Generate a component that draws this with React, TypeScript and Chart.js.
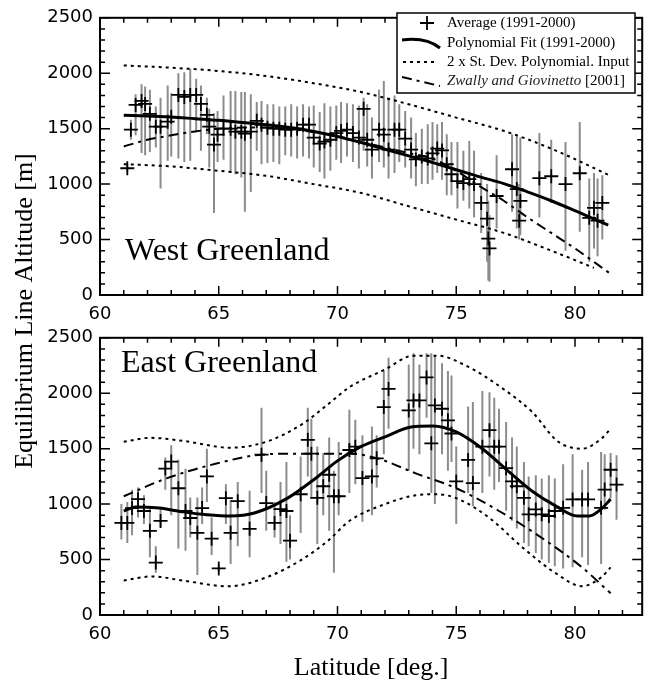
import React, { useEffect, useRef } from 'react';
import { Chart, registerables } from 'chart.js';

Chart.register(...registerables);

// ---------------- West Greenland ----------------
const westLat = [61.15,61.3,61.5,61.75,61.9,62.1,62.35,62.55,62.85,63.0,63.3,63.55,63.8,64.05,64.25,64.5,64.6,64.8,64.95,65.2,65.5,65.7,65.95,66.1,66.35,66.6,66.8,67.05,67.3,67.55,67.8,68.05,68.3,68.55,68.8,69.0,69.25,69.45,69.7,69.95,70.15,70.4,70.65,70.9,71.1,71.25,71.45,71.75,71.95,72.15,72.4,72.6,72.85,73.1,73.3,73.55,73.8,74.0,74.2,74.4,74.6,74.8,75.05,75.3,75.55,75.75,76.05,76.3,76.35,76.4,76.7,77.35,77.55,77.65,77.7,78.5,79.0,79.6,80.2,80.6,80.8,80.95,81.15];
const westAvg = [1143,1491,1714,1750,1723,1634,1518,1518,1563,1607,1804,1786,1804,1804,1723,1625,1518,1357,1446,1500,1500,1473,1473,1455,1473,1571,1536,1509,1500,1500,1491,1491,1500,1536,1536,1420,1366,1384,1400,1460,1480,1491,1460,1420,1679,1400,1312,1491,1446,1312,1491,1491,1411,1312,1223,1250,1232,1277,1321,1304,1179,1089,1027,1009,1045,1000,830,688,509,420,893,1134,955,670,848,1054,1071,1000,1098,696,786,670,830];
const westLow = [1110,1400,1440,1280,1260,1290,1330,960,1210,1250,1230,1200,1210,1470,1300,1450,1150,740,1200,1220,1100,1090,1060,750,930,1300,1180,1190,1200,1180,1260,1250,1230,1250,1230,1150,1110,1050,1120,1220,1190,1250,1200,1140,1300,1160,1050,1200,1150,1050,1100,1200,1150,1050,980,1000,1000,1040,1100,1040,900,900,780,850,780,700,560,300,130,120,600,750,600,500,540,700,830,400,570,300,420,350,500];
const westHigh = [1180,1580,1810,1900,1880,1850,1700,1780,1890,1820,2000,2010,2040,1950,1890,1780,1680,1640,1660,1800,1840,1840,1830,1830,1810,1740,1750,1720,1720,1700,1700,1720,1700,1720,1700,1710,1650,1730,1700,1710,1740,1730,1720,1710,1780,1720,1600,1850,1930,1780,1800,1720,1660,1600,1460,1500,1540,1560,1540,1560,1450,1380,1380,1300,1390,1300,1100,1000,850,720,1260,1450,1430,1000,1420,1460,1400,1380,1560,1050,1100,1050,1080];

const westFitLat = [61,62,63,64,65,66,67,68,69,70,71,72,73,74,75,76,77,78,79,80,81.4];
const westFitAlt = [1620,1615,1605,1590,1575,1555,1535,1510,1475,1430,1375,1315,1255,1195,1130,1065,1005,930,850,760,630];
const westUpperLat = [61,63,65,67,69,71,73,75,77,79,81.5];
const westUpperAlt = [2070,2050,2020,1975,1910,1830,1720,1600,1480,1320,1075];
const westLowerLat = [61,63,65,67,69,71,73,75,77,79,80.8];
const westLowerAlt = [1180,1160,1120,1075,1000,920,800,680,560,400,245];
const westZgLat = [61,62,63,64,65,66,67,68,69,70,71,72,73,74,75,76,77,78,79,80,81.5];
const westZgAlt = [1340,1400,1440,1475,1500,1510,1510,1495,1470,1430,1380,1330,1280,1230,1120,980,850,700,560,420,190];

// ---------------- East Greenland ----------------
const eastLat = [60.9,61.15,61.35,61.6,61.85,62.1,62.35,62.55,62.75,63.0,63.3,63.6,63.8,64.1,64.3,64.5,64.7,65.0,65.3,65.5,65.8,66.3,66.8,67.0,67.35,67.6,67.85,68.0,68.45,68.75,68.9,69.15,69.4,69.65,69.85,70.05,70.5,70.75,71.05,71.45,71.65,71.95,72.15,73.0,73.2,73.45,73.75,73.95,74.1,74.4,74.65,74.8,75.0,75.5,75.7,76.1,76.4,76.6,76.8,77.1,77.35,77.55,77.85,78.05,78.35,78.6,78.9,79.15,79.5,79.9,80.3,80.55,81.1,81.25,81.5,81.75];
const eastAvg = [830,830,964,1045,938,759,473,848,1321,1384,1143,938,875,741,964,1250,688,420,1054,741,1027,777,1446,1009,830,955,938,670,1089,1580,1455,1057,1161,1265,1071,1071,1488,1518,1235,1250,1413,1875,2039,1845,1935,1935,2143,1548,1890,1860,1756,1637,1205,1399,1190,1518,1667,1518,1518,1324,1205,1161,1057,908,952,908,893,938,967,1042,1042,1042,967,1131,1310,1176];
const eastLow = [680,650,720,880,820,520,380,790,1130,900,600,580,700,360,820,1020,540,390,820,460,620,520,1100,760,700,640,480,500,740,1250,1050,640,900,760,380,900,1100,1180,840,900,1150,1450,1680,1300,1500,1450,1780,1100,1000,1450,1300,1380,820,1100,980,1100,1250,1130,1200,940,850,780,650,620,560,500,470,440,420,430,520,450,460,950,1050,860];
const eastHigh = [1000,1020,1130,1150,1080,970,620,960,1420,1530,1400,1320,1060,1060,1150,1500,880,450,1180,1040,1200,1120,1870,1300,1020,1200,1380,900,1430,1870,1770,1520,1460,1600,1300,1560,1850,1760,1620,1700,1620,2200,2320,2260,2360,2260,2360,2360,2340,2270,2200,2160,1520,1880,1920,2020,2010,1960,1860,1740,1600,1520,1380,1250,1260,1230,1260,1230,1360,1450,1310,1380,1470,1450,1460,1440];

const eastFitLat = [61,61.5,62.5,63.5,64.5,65.5,66.5,67.9,69,70,71,72,73.1,74,75,76.1,77.2,78.2,79.2,80.1,80.6,81.1,81.5];
const eastFitAlt = [937,975,965,930,905,893,920,1054,1220,1390,1520,1607,1696,1705,1652,1500,1295,1116,982,893,893,955,1045];
const eastUpperLat = [61,62.1,63.5,65.5,67,68.5,69.6,70.5,72,73.2,74.2,75.4,77,78.2,79.3,80.3,81.1,81.5];
const eastUpperAlt = [1562,1598,1570,1509,1562,1720,1900,2054,2214,2339,2339,2250,2036,1830,1562,1500,1589,1679];
const eastLowerLat = [61,62.2,63.5,65.4,67,68.5,69.6,70.5,72,73.3,74.2,75.1,76.4,77.8,79.2,80.3,81.1,81.5];
const eastLowerAlt = [312,348,310,259,339,500,670,848,1000,1080,1089,1045,875,607,375,259,339,429];
const eastZgLat = [61,62.8,64.9,66.8,68.3,70.5,71.7,73.3,75,76.8,78.6,80.3,81.5];
const eastZgAlt = [1071,1232,1366,1446,1455,1455,1411,1277,1143,938,696,429,196];

// ---------------- axes / texts ----------------
const X_MIN = 60;
const X_MAX = 82.83;
const Y_MIN = 0;
const Y_MAX = 2500;
const xTickValues = [60, 65, 70, 75, 80];
const yTickValues = [0, 500, 1000, 1500, 2000, 2500];
const legendLabels = ['Average (1991-2000)', 'Polynomial Fit (1991-2000)', '2 x St. Dev. Polynomial. Input'];
const legendItalic = 'Zwally and Giovinetto';
const legendTail = ' [2001]';
const yTitle = 'Equilibrium Line Altitude [m]';
const xTitle = 'Latitude [deg.]';

const SERIF = '"Liberation Serif", "Times New Roman", serif';
const SANS = '"DejaVu Sans", sans-serif';

function pts(xs: number[], ys: number[]) {
  return xs.map((x, i) => ({ x, y: ys[i] }));
}
function errorSegments(xs: number[], lo: number[], hi: number[]) {
  const out: any[] = [];
  xs.forEach((x, i) => {
    out.push({ x, y: lo[i] }, { x, y: hi[i] }, { x, y: null });
  });
  return out;
}

function framePlugin() {
  return {
    id: 'frame',
    afterDraw(chart: any) {
      const { ctx, chartArea: a, scales } = chart;
      const xs = scales.x;
      const ys = scales.y;
      ctx.save();
      ctx.strokeStyle = '#000';
      ctx.lineWidth = 1.5;
      ctx.beginPath();
      for (let v = 60; v <= 82; v += 1) {
        const px = xs.getPixelForValue(v);
        const len = v % 5 === 0 ? 9 : 5;
        ctx.moveTo(px, a.bottom);
        ctx.lineTo(px, a.bottom - len);
        ctx.moveTo(px, a.top);
        ctx.lineTo(px, a.top + len);
      }
      for (let v = 0; v <= 2500; v += 100) {
        const py = ys.getPixelForValue(v);
        const len = v % 500 === 0 ? 10 : 5;
        ctx.moveTo(a.left, py);
        ctx.lineTo(a.left + len, py);
        ctx.moveTo(a.right, py);
        ctx.lineTo(a.right - len, py);
      }
      ctx.stroke();
      ctx.lineWidth = 2;
      ctx.strokeRect(a.left, a.top, a.right - a.left, a.bottom - a.top);
      ctx.restore();
    },
  };
}

function textPlugin(label: string, lx: number, ly: number, isTop: boolean) {
  return {
    id: 'panelText',
    afterDraw(chart: any) {
      const { ctx } = chart;
      ctx.save();
      ctx.fillStyle = '#000';
      ctx.font = `32px ${SERIF}`;
      ctx.textAlign = 'left';
      ctx.textBaseline = 'alphabetic';
      ctx.fillText(label, lx, ly);
      if (isTop) {
        // y title spanning both panels
        ctx.save();
        ctx.translate(32, 311);
        ctx.rotate(-Math.PI / 2);
        ctx.font = `26px ${SERIF}`;
        ctx.textAlign = 'center';
        ctx.fillText(yTitle, 0, 0);
        ctx.restore();
        // legend
        const bx = 397, by = 13, bw = 238, bh = 80;
        ctx.fillStyle = '#fff';
        ctx.fillRect(bx, by, bw, bh);
        ctx.strokeStyle = '#000';
        ctx.lineWidth = 1.5;
        ctx.strokeRect(bx, by, bw, bh);
        const rows = [23, 43, 62, 81];
        ctx.lineWidth = 1.8;
        ctx.beginPath();
        ctx.moveTo(420, rows[0]);
        ctx.lineTo(434, rows[0]);
        ctx.moveTo(427, rows[0] - 7);
        ctx.lineTo(427, rows[0] + 7);
        ctx.stroke();
        ctx.lineWidth = 3;
        ctx.beginPath();
        ctx.moveTo(402, rows[1] - 3);
        ctx.quadraticCurveTo(426, rows[1] - 6, 440, rows[1] + 5);
        ctx.stroke();
        ctx.lineWidth = 2;
        ctx.setLineDash([3, 4]);
        ctx.beginPath();
        ctx.moveTo(403, rows[2]);
        ctx.lineTo(438, rows[2]);
        ctx.stroke();
        ctx.setLineDash([10, 5, 3, 5]);
        ctx.beginPath();
        ctx.moveTo(402, rows[3] - 4);
        ctx.lineTo(440, rows[3] + 5);
        ctx.stroke();
        ctx.setLineDash([]);
        ctx.fillStyle = '#000';
        ctx.textBaseline = 'middle';
        ctx.textAlign = 'left';
        ctx.font = `15px ${SERIF}`;
        legendLabels.forEach((t, i) => ctx.fillText(t, 447, rows[i]));
        ctx.font = `italic 15px ${SERIF}`;
        ctx.fillStyle = '#222';
        ctx.fillText(legendItalic, 447, rows[3]);
        const w = ctx.measureText(legendItalic).width;
        ctx.font = `15px ${SERIF}`;
        ctx.fillStyle = '#000';
        ctx.fillText(legendTail, 447 + w, rows[3]);
      }
      ctx.restore();
    },
  };
}

type Panel = {
  lat: number[]; avg: number[]; low: number[]; high: number[];
  fitLat: number[]; fit: number[];
  upLat: number[]; up: number[];
  loLat: number[]; lo: number[];
  zgLat: number[]; zg: number[];
  label: string; lx: number; ly: number; isTop: boolean;
};

function makeConfig(p: Panel): any {
  const curve = { showLine: true, pointRadius: 0, borderColor: '#000', cubicInterpolationMode: 'monotone', fill: false };
  return {
    type: 'scatter',
    data: {
      datasets: [
        {
          data: errorSegments(p.lat, p.low, p.high),
          showLine: true, spanGaps: false, pointRadius: 0,
          borderColor: '#8c8c8c', borderWidth: 2, order: 5,
        },
        { ...curve, data: pts(p.upLat, p.up), borderWidth: 2, borderDash: [3, 4], order: 3 },
        { ...curve, data: pts(p.loLat, p.lo), borderWidth: 2, borderDash: [3, 4], order: 3 },
        { ...curve, data: pts(p.zgLat, p.zg), borderWidth: 2, borderDash: [10, 5, 3, 5], order: 3 },
        { ...curve, data: pts(p.fitLat, p.fit), borderWidth: 3, order: 2 },
        {
          data: pts(p.lat, p.avg), showLine: false,
          pointStyle: 'cross', pointRadius: 7, pointBorderWidth: 1.8,
          pointBorderColor: '#000', pointBackgroundColor: '#000', order: 1,
        },
      ],
    },
    options: {
      responsive: false,
      animation: false,
      events: [],
      layout: { padding: p.isTop ? { left: 0, right: 3, top: 14, bottom: 351 } : { left: 0, right: 3, top: 14, bottom: 0 } },
      plugins: { legend: { display: false }, tooltip: { enabled: false } },
      scales: {
        x: {
          type: 'linear', min: X_MIN, max: X_MAX,
          afterBuildTicks: (s: any) => { s.ticks = xTickValues.map((v) => ({ value: v })); },
          afterFit: (s: any) => { s.height = p.isTop ? 35 : 66; },
          ticks: {
            color: '#000', font: { family: SANS, size: 18 }, padding: 9, maxRotation: 0, autoSkip: false,
            callback: (v: any) => String(v),
          },
          grid: { display: false, drawTicks: false },
          border: { display: false },
          title: p.isTop ? { display: false } : {
            display: true, text: xTitle, color: '#000',
            font: { family: SERIF, size: 26, lineHeight: 1 }, padding: 0,
          },
        },
        y: {
          type: 'linear', min: Y_MIN, max: Y_MAX,
          afterBuildTicks: (s: any) => { s.ticks = yTickValues.map((v) => ({ value: v })); },
          afterFit: (s: any) => { s.width = 100; },
          ticks: {
            color: '#000', font: { family: SANS, size: 18 }, padding: 7, autoSkip: false,
            callback: (v: any) => String(v),
          },
          grid: { display: false, drawTicks: false },
          border: { display: false },
        },
      },
    },
    plugins: [framePlugin(), textPlugin(p.label, p.lx, p.ly, p.isTop)],
  };
}

const westPanel: Panel = {
  lat: westLat, avg: westAvg, low: westLow, high: westHigh,
  fitLat: westFitLat, fit: westFitAlt, upLat: westUpperLat, up: westUpperAlt,
  loLat: westLowerLat, lo: westLowerAlt, zgLat: westZgLat, zg: westZgAlt,
  label: 'West Greenland', lx: 125, ly: 260, isTop: true,
};
const eastPanel: Panel = {
  lat: eastLat, avg: eastAvg, low: eastLow, high: eastHigh,
  fitLat: eastFitLat, fit: eastFitAlt, upLat: eastUpperLat, up: eastUpperAlt,
  loLat: eastLowerLat, lo: eastLowerAlt, zgLat: eastZgLat, zg: eastZgAlt,
  label: 'East Greenland', lx: 121, ly: 52, isTop: false,
};

export default function App() {
  const topRef = useRef<HTMLCanvasElement | null>(null);
  const botRef = useRef<HTMLCanvasElement | null>(null);
  useEffect(() => {
    const c1 = new Chart(topRef.current as HTMLCanvasElement, makeConfig(westPanel));
    const c2 = new Chart(botRef.current as HTMLCanvasElement, makeConfig(eastPanel));
    return () => { c1.destroy(); c2.destroy(); };
  }, []);
  return (
    <div style={{ position: 'absolute', left: 0, top: 0, width: 651, height: 681, background: '#fff', overflow: 'hidden' }}>
      <canvas ref={topRef} width={651} height={681} style={{ position: 'absolute', left: 0, top: 0, width: 651, height: 681 }} />
      <canvas ref={botRef} width={651} height={361} style={{ position: 'absolute', left: 0, top: 320, width: 651, height: 361 }} />
    </div>
  );
}
